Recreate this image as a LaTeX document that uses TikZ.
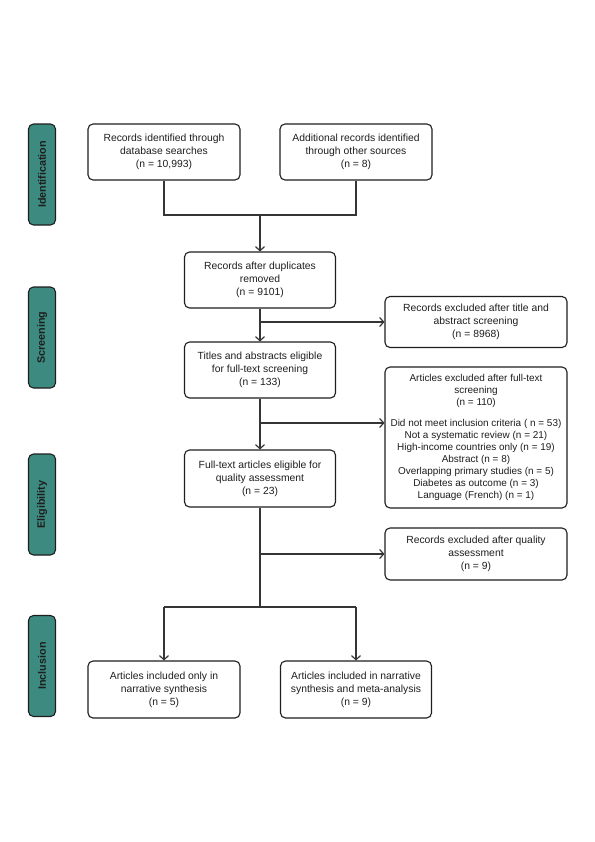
\documentclass[tikz,border=0pt]{standalone}
\usepackage{fontspec}
\setmainfont{Liberation Sans}
\usetikzlibrary{arrows.meta}
\definecolor{teal1}{RGB}{61,138,128}
\definecolor{ink}{RGB}{30,30,30}
\begin{document}
\begin{tikzpicture}[x=1bp,y=-1bp,
  box/.style={draw=ink,line width=1.1bp,rounded corners=5bp,fill=white,align=center,
    text=ink,inner sep=1bp,font=\fontsize{10.4}{13}\selectfont},
  lab/.style={draw=ink,line width=1.1bp,rounded corners=5bp,fill=teal1,
    minimum width=101bp,minimum height=27bp,rotate=90,text=ink,
    font=\fontsize{10.8}{12}\selectfont\bfseries},
  conn/.style={draw=ink!90,line width=1.4bp},
  arr/.style={conn,-{Straight Barb[length=4bp,width=9bp,line width=1.2bp]}}]
\useasboundingbox (0,0) rectangle (595,842);
% stage labels
\node[lab] (L1) at (42,174.5) {Identification};
\node[lab] (L2) at (42,337.5) {Screening};
\node[lab] (L3) at (42,504.5) {Eligibility};
\node[lab] (L4) at (42,666) {Inclusion};
% boxes
\node[box,minimum width=152bp,minimum height=56bp] (A) at (164,152)
  {Records identified through\\database searches\\(n = 10,993)};
\node[box,minimum width=152bp,minimum height=56bp] (B) at (356,152)
  {Additional records identified\\through other sources\\(n = 8)};
\node[box,minimum width=151bp,minimum height=56bp] (C) at (260,280)
  {Records after duplicates\\removed\\(n = 9101)};
\node[box,minimum width=182bp,minimum height=51bp] (D) at (476,322)
  {Records excluded after title and\\abstract screening\\(n = 8968)};
\node[box,minimum width=151bp,minimum height=56bp] (E) at (260,370)
  {Titles and abstracts eligible\\for full-text screening\\(n = 133)};
\node[box,minimum width=182bp,minimum height=141bp,font=\fontsize{10}{12.1}\selectfont] (F) at (476,437.5)
  {Articles excluded after full-text\\screening\\(n = 110)\\[9bp]
   Did not meet inclusion criteria ( n = 53)\\
   Not a systematic review (n = 21)\\
   High-income countries only (n = 19)\\
   Abstract (n = 8)\\
   Overlapping primary studies (n = 5)\\
   Diabetes as outcome (n = 3)\\
   Language (French) (n = 1)};
\node[box,minimum width=151bp,minimum height=57bp] (G) at (260,478.5)
  {Full-text articles eligible for\\quality assessment\\(n = 23)};
\node[box,minimum width=182bp,minimum height=52bp] (H) at (476,554)
  {Records excluded after quality\\assessment\\(n = 9)};
\node[box,minimum width=152bp,minimum height=57bp] (I) at (164,689.5)
  {Articles included only in\\narrative synthesis\\(n = 5)};
\node[box,minimum width=151bp,minimum height=57bp] (J) at (356,689.5)
  {Articles included in narrative\\synthesis and meta-analysis\\(n = 9)};
% connectors
\coordinate (m1) at (260,215);
\coordinate (f1) at (260,423);
\coordinate (bus) at (260,607);
\draw[conn] (A.south) |- (m1) -| (B.south);
\draw[arr] (m1) -- (C.north);
\draw[arr] (C.south) -- (E.north);
\draw[arr] (C.south |- D.west) -- (D.west);
\draw[arr] (E.south) -- (G.north);
\draw[arr] (f1) -- (f1 -| F.west);
\draw[conn] (G.south) -- (bus);
\draw[arr] (G.south |- H.west) -- (H.west);
\draw[conn] (I.north |- bus) -- (J.north |- bus);
\draw[arr] (I.north |- bus) -- (I.north);
\draw[arr] (J.north |- bus) -- (J.north);
\end{tikzpicture}
\end{document}
